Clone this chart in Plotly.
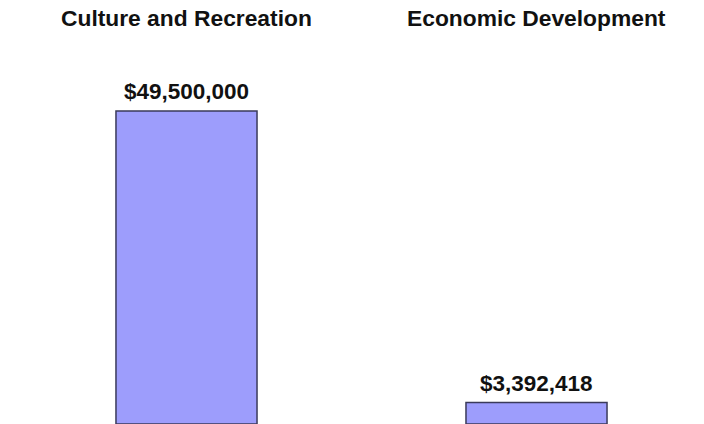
import plotly.graph_objects as go

categories = ["Culture and Recreation", "Economic Development"]
values = [49500000, 3392418]
value_labels = ["$49,500,000", "$3,392,418"]

x_pos = list(range(len(categories)))

px_per_unit = 350.0
x0 = -186.5 / px_per_unit
y_scale = 49500000 / 313.0          # value per pixel
y_top = 424 * y_scale

FONT = "Liberation Sans, Arial, sans-serif"

fig = go.Figure()
fig.add_trace(go.Bar(
    x=x_pos,
    y=values,
    width=0.403,
    marker=dict(color="#9d9dfc", line=dict(color="#3a3a5a", width=1.5)),
    hoverinfo="skip",
))

for xp, v, lab in zip(x_pos, values, value_labels):
    fig.add_annotation(
        x=xp, xref="x", y=v, yref="y", yanchor="bottom", yshift=5,
        text=lab, showarrow=False,
        font=dict(family=FONT, size=22.5, color="#111111", weight="bold"),
    )

for xp, cat in zip(x_pos, categories):
    fig.add_annotation(
        x=xp, xref="x", y=1, yref="paper", yanchor="middle", yshift=-18,
        text=cat, showarrow=False,
        font=dict(family=FONT, size=22.8, color="#111111", weight="bold"),
    )

fig.update_layout(
    width=704, height=424,
    margin=dict(l=0, r=0, t=0, b=0),
    paper_bgcolor="white", plot_bgcolor="white",
    showlegend=False,
    hovermode=False,
    xaxis=dict(range=[x0, x0 + 704 / px_per_unit], visible=False),
    yaxis=dict(range=[0, y_top], visible=False),
)

fig.write_html(
    "out.html",
    config={"displayModeBar": False, "staticPlot": True},
    post_script="document.body.style.margin='0px';",
)
